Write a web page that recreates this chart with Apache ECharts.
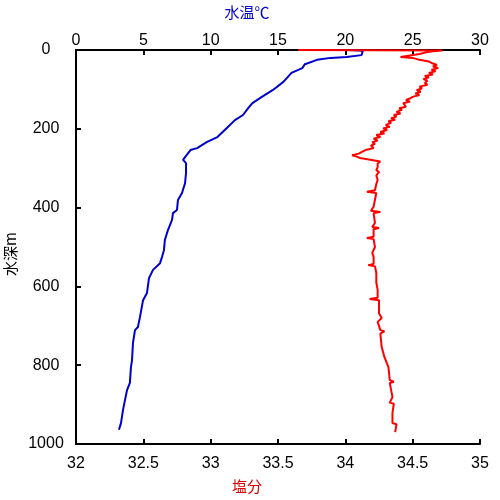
<!DOCTYPE html>
<html><head><meta charset="utf-8">
<script src="https://cdn.jsdelivr.net/npm/echarts@6/dist/echarts.min.js"></script>
<style>html,body{margin:0;padding:0;background:#fff}#c{width:500px;height:500px}</style>
</head><body><div id="c"></div>
<script>
// Temperature profile (top axis, °C)
const tempDepth = [0,2,13,18,20,25,36,46,58,81,102,119,135,147,165,178,198,221,234,249,254,272,279,287,312,338,363,381,406,414,431,457,482,508,525,541,558,579,617,635,678,703,711,744,787,805,845,863,888,914,947,964];
const tempValue = [20.2,21.3,21.2,20.1,18.9,17.9,17.0,16.8,16.0,15.4,14.6,13.8,13.1,12.8,12.4,11.8,11.2,10.5,9.7,9.0,8.5,8.1,7.95,8.17,8.17,8.1,7.87,7.57,7.5,7.2,7.13,6.83,6.6,6.53,6.39,6.24,5.72,5.42,5.27,4.98,4.75,4.6,4.38,4.23,4.16,4.08,4.0,3.79,3.64,3.49,3.34,3.19];
// Salinity profile (bottom axis)
const salDepth = [0,1,3,6,10,14,18,20,25,29,33,38,42,46,50,54,58,62,66,69,74,78,84,88,93,97,102,106,110,114,119,123,127,131,135,140,144,148,152,157,161,165,169,173,177,181,185,190,195,199,203,208,212,216,221,225,230,234,238,243,249,254,259,263,267,270,274,279,283,288,297,305,310,318,330,340,356,360,363,380,398,408,411,414,439,449,452,455,474,477,480,500,515,525,543,546,549,566,590,609,629,632,635,668,680,690,711,714,720,754,779,805,838,842,845,881,895,898,921,947,950,970];
const salValue = [33.65,34.72,34.65,34.60,34.55,34.48,34.41,34.50,34.55,34.62,34.64,34.68,34.65,34.69,34.64,34.67,34.62,34.65,34.59,34.62,34.58,34.61,34.59,34.61,34.55,34.57,34.53,34.56,34.52,34.55,34.50,34.48,34.45,34.48,34.43,34.42,34.45,34.40,34.42,34.38,34.41,34.36,34.38,34.34,34.37,34.32,34.34,34.30,34.33,34.28,34.31,34.26,34.29,34.23,34.26,34.21,34.24,34.20,34.22,34.19,34.21,34.15,34.12,34.10,34.05,34.08,34.11,34.11,34.26,34.24,34.24,34.23,34.25,34.23,34.24,34.23,34.22,34.16,34.23,34.22,34.21,34.19,34.26,34.21,34.22,34.20,34.25,34.21,34.21,34.16,34.21,34.22,34.20,34.21,34.21,34.17,34.22,34.23,34.23,34.24,34.24,34.18,34.25,34.25,34.27,34.24,34.26,34.29,34.26,34.27,34.29,34.32,34.33,34.36,34.33,34.35,34.33,34.36,34.35,34.35,34.38,34.37];

const tempTitle = '水温℃', salTitle = '塩分', depthTitle = '水深m';

const chart = echarts.init(document.getElementById('c'), null, {renderer:'canvas'});
const lab = {color:'#000', fontFamily:'Liberation Sans, Arial', fontSize:16, formatter:v=>String(v)};
const axLine = {show:true, onZero:false, lineStyle:{color:'#000', width:2}};
const tick = {show:true, inside:true, length:5, lineStyle:{color:'#000', width:2}};
chart.setOption({
  animation:false,
  grid:{left:76, right:20, top:50, bottom:56, containLabel:false, outerBoundsMode:'none'},
  xAxis:[
    {type:'value', position:'top', min:0, max:30, interval:5,
     axisLine:axLine, axisTick:tick, splitLine:{show:false},
     axisLabel:Object.assign({margin:1}, lab),
     name:tempTitle, nameLocation:'middle', nameGap:30,
     nameTextStyle:{color:'#0000cc', fontFamily:'Noto Sans CJK JP', fontSize:15, padding:[0,62,0,0]}},
    {type:'value', position:'bottom', min:32, max:35, interval:0.5,
     axisLine:axLine, axisTick:tick, splitLine:{show:false},
     axisLabel:Object.assign({margin:12}, lab),
     name:salTitle, nameLocation:'middle', nameGap:35,
     nameTextStyle:{color:'#dd0000', fontFamily:'Noto Sans CJK JP', fontSize:15, padding:[0,62,0,0]}}
  ],
  yAxis:{type:'value', inverse:true, min:0, max:1000, interval:200,
     axisLine:axLine, axisTick:tick, splitLine:{show:false},
     axisLabel:Object.assign({margin:30, align:'center'}, lab),
     name:depthTitle, nameLocation:'middle', nameGap:58, nameRotate:90,
     nameTextStyle:{color:'#000', fontFamily:'Noto Sans CJK JP', fontSize:15, padding:[0,14,0,0]}},
  series:[
    {type:'line', xAxisIndex:0, showSymbol:false, symbol:'none',
     lineStyle:{color:'#0000cc', width:2}, z:3,
     data: tempDepth.map((d,i)=>[tempValue[i], d])},
    {type:'line', xAxisIndex:1, showSymbol:false, symbol:'none',
     lineStyle:{color:'#ff0000', width:2}, z:4,
     data: salDepth.map((d,i)=>[salValue[i], d])}
  ]
});
</script></body></html>
